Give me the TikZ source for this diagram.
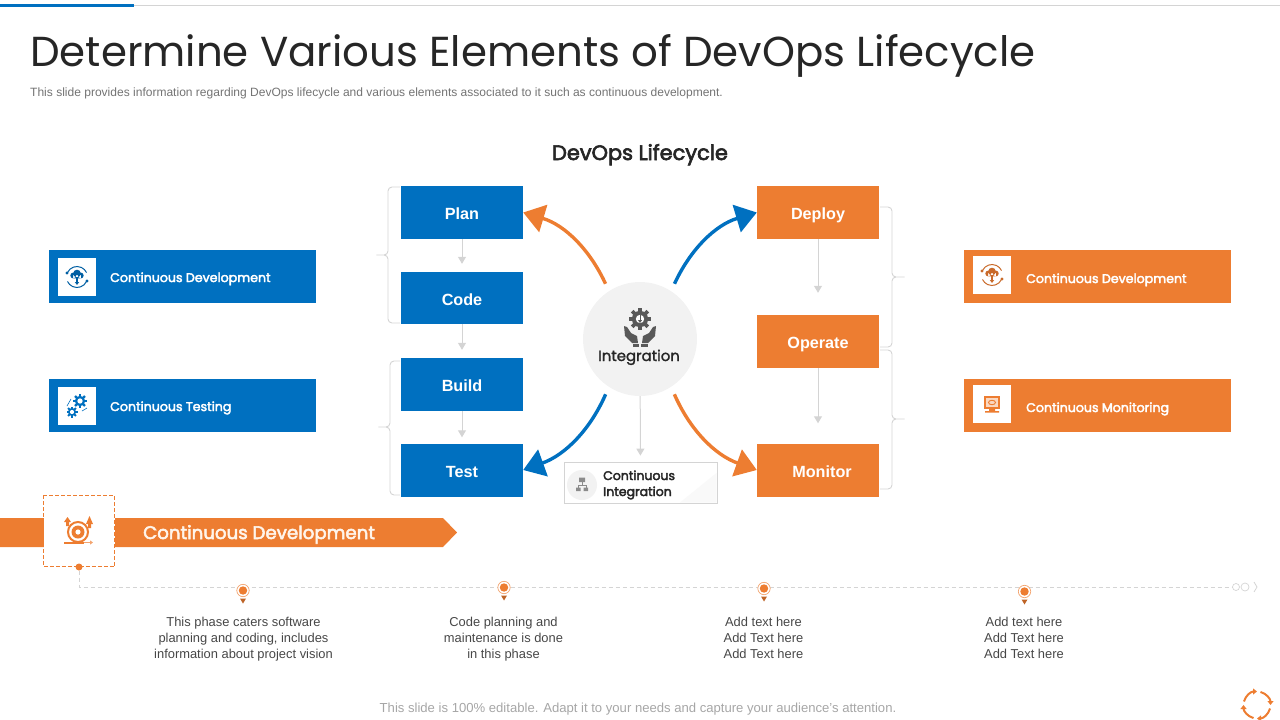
\documentclass[tikz,border=0pt]{standalone}
\usepackage{fontspec}
\setmainfont{Liberation Sans}
\newfontfamily\geo{Poppins}
\newfontfamily\geom[FakeBold=1.5]{Poppins}
\newfontfamily\geob[FakeBold=3]{Poppins}
\usetikzlibrary{arrows.meta}
\definecolor{dblue}{HTML}{0070C0}
\definecolor{dorange}{HTML}{ED7D31}
\definecolor{lgrey}{HTML}{D4D4D4}
\definecolor{cgrey}{HTML}{F2F2F2}
\definecolor{igrey}{HTML}{595959}
\tikzset{
  stagebox/.style={minimum width=122pt,minimum height=53pt,inner sep=0pt,text height=14pt,text depth=0pt,font=\fontsize{16.2}{16.2}\selectfont\bfseries,text=white},
  stageblue/.style={stagebox,fill=dblue},
  stageorange/.style={stagebox,fill=dorange},
  widebox/.style={minimum width=267pt,minimum height=53pt,inner sep=0pt},
  iconbox/.style={fill=white,minimum size=38pt,inner sep=0pt},
  widelabel/.style={anchor=base west,inner sep=0pt,text=white,font=\geob\fontsize{12.6}{12.6}\selectfont},
  greyarrow/.style={draw=lgrey,line width=1pt,-{Triangle[width=8pt,length=7pt]}},
  bigarrow/.style={line width=3.4pt,-{Triangle[width=28pt,length=21pt]}},
  bracket/.style={draw=lgrey,line width=0.9pt,rounded corners=4pt},
  bodytext/.style={align=center,inner sep=0pt,text=black!72,font=\fontsize{12.9}{16}\selectfont},
  dashline/.style={draw=lgrey,line width=0.8pt,dash pattern=on 4pt off 3pt},
  pics/gearico/.style={code={
    \fill[#1] (0,0) circle (0.74);
    \foreach \a in {0,45,...,315}{\fill[#1,rotate=\a] (-0.17,0.6) rectangle (0.17,1);}
    \fill[white] (0,0) circle (0.38);
  }},
  pics/cloudico/.style={code={
    \draw[#1,line width=1pt] (0,0) ++(25:10.5) arc (25:155:10.5);
    \draw[#1,line width=1pt] (0,0) ++(205:10.5) arc (205:335:10.5);
    \fill[#1] (-10,-4) circle (1.6) (10,4) circle (1.6);
    \fill[#1] (-3.8,-1.5) circle (2.9) (3.8,-1.5) circle (2.9) (0,-3.5) circle (3.8) (-4,-2) rectangle (4,1.4);
    \fill[#1] (-0.8,1) rectangle (0.8,6.5);
    \fill[#1] (-2.2,5) -- (2.2,5) -- (0,8) -- cycle;
  }},
  pics/pinico/.style={code={
    \draw[dorange!70,line width=0.7pt,fill=white] (0,0) circle (6.2);
    \fill[dorange] (0,0) circle (4.2);
    \fill[dorange!80!black] (-3,8) -- (3,8) -- (0,13) -- cycle;
  }},
}
\begin{document}
\begin{tikzpicture}[x=1pt,y=-1pt]
\useasboundingbox (0,0) rectangle (1280,720);
% top rule
\draw[draw=lgrey,line width=1pt] (0,5.5) -- (1280,5.5);
\fill[dblue] (0,3.5) rectangle (134,6.5);
% title
\node[anchor=base west,inner sep=0pt,text=black!85,font=\geo\fontsize{41.9}{41.9}\selectfont] (title) at (30,66) {Determine Various Elements of DevOps Lifecycle};
\node[anchor=base west,inner sep=0pt,text=black!55,font=\fontsize{12.03}{12}\selectfont] (sub) at (30,96.5) {This slide provides information regarding DevOps lifecycle and various elements associated to it such as continuous development.};
\node[anchor=base,inner sep=0pt,text=black!85,font=\geob\fontsize{20.9}{20.9}\selectfont] (head) at (640,160) {DevOps Lifecycle};
% brackets
\draw[bracket] (400,187) -- (388,187) -- (388,255) -- (374,255) -- (388,255) -- (388,323) -- (400,323);
\draw[bracket] (400,361) -- (390,361) -- (390,427) -- (376,427) -- (390,427) -- (390,495) -- (400,495);
\draw[bracket] (880,207) -- (892,207) -- (892,277) -- (907,277) -- (892,277) -- (892,347) -- (880,347);
\draw[bracket] (880,350) -- (892,350) -- (892,419) -- (907,419) -- (892,419) -- (892,489) -- (880,489);
% stage boxes
\node[stageblue] (plan) at (462,212.5) {Plan};
\node[stageblue,minimum height=52pt] (code) at (462,298) {Code};
\node[stageblue] (build) at (462,384.5) {Build};
\node[stageblue] (test) at (462,470) {Test};
\node[stageorange] (deploy) at (818,212.5) {Deploy};
\node[stageorange] (operate) at (818,341.5) {Operate};
\node[stageorange] (monitor) at (818,470) {\hspace*{8pt}Monitor};
% centre
\node[circle,fill=cgrey,minimum size=114pt,inner sep=0pt] (integ) at (640,339) {};
\pic[scale=11] at (640,319) {gearico=igrey};
\draw[igrey,line width=1pt,-{Triangle[width=4pt,length=3pt]}] (640,315) -- (640,323);
\foreach \s in {1,-1}{
  \fill[igrey,xshift=640pt,xscale=\s] (-16,326) -- (-13,327) -- (-9,333) -- (-3,336) -- (-2,343) -- (-8,343) -- (-15,336) -- cycle;
  \fill[igrey,xshift=640pt,xscale=\s] (-7.5,344) rectangle (-1,347);
}
\node[anchor=base,inner sep=0pt,text=black!85,font=\geom\fontsize{14.9}{14.9}\selectfont] (integlabel) at (639,361) {Integration};
% CI box
\node[draw=lgrey,fill=white,line width=0.8pt,minimum width=153pt,minimum height=41pt,inner sep=0pt] (ci) at (640.5,482.5) {};
\fill[cgrey!50] (716.5,473) -- (716.5,502.5) -- (680,502.5) -- cycle;
\node[circle,fill=cgrey,minimum size=30pt,inner sep=0pt] (cicircle) at (582,485) {};
\fill[igrey!70] (579,477.5) rectangle (585,482) (576,487.5) rectangle (580.5,491) (583.5,487.5) rectangle (588,491);
\draw[igrey!70,line width=0.6pt] (582,482) -- (582,485) (578,487.5) -- (578,485) -- (586,485) -- (586,487.5);
\node[anchor=base west,inner sep=0pt,align=left,text=black!85,font=\geob\fontsize{12.5}{16}\selectfont] (cilabel) at (603,480) {Continuous};
\node[anchor=base west,inner sep=0pt,align=left,text=black!85,font=\geob\fontsize{12.5}{16}\selectfont] (cilabelb) at (603,496) {Integration};
% grey arrows
\draw[greyarrow,shorten >=8pt] (plan) -- (code);
\draw[greyarrow,shorten >=8pt] (code) -- (build);
\draw[greyarrow,shorten >=6pt] (build) -- (test);
\draw[greyarrow,shorten >=22pt] (deploy) -- (operate);
\draw[greyarrow,shorten >=20pt] (operate) -- (monitor);
\draw[greyarrow,shorten >=6pt] (integ) -- (ci);
% curved arrows
\draw[bigarrow,draw=dorange,shorten <=8pt] (integ.123) .. controls (590,250) and (565,225) .. (plan.east);
\draw[bigarrow,draw=dblue,shorten <=8pt] (integ.57) .. controls (690,250) and (715,225) .. (deploy.west);
\draw[bigarrow,draw=dblue,shorten <=8pt] (integ.237) .. controls (590,430) and (565,455) .. (test.east);
\draw[bigarrow,draw=dorange,shorten <=8pt] (integ.303) .. controls (690,430) and (715,455) .. (monitor.west);
% side boxes
\node[widebox,fill=dblue] (ld) at (182.5,276.5) {};
\node[widebox,fill=dblue] (lt) at (182.5,405.5) {};
\node[widebox,fill=dorange] (rd) at (1097.5,276.5) {};
\node[widebox,fill=dorange] (rm) at (1097.5,405.5) {};
\node[iconbox] (ldi) at (77,277) {};
\node[iconbox] (lti) at (77,406) {};
\node[iconbox] (rdi) at (992,275) {};
\node[iconbox] (rmi) at (992,404) {};
\pic at (ldi) {cloudico={dblue!85!black}};
\pic at (rdi) {cloudico={dorange!85!black}};
\pic[scale=7] at (80,401) {gearico=dblue};
\pic[scale=5.5] at (72,412) {gearico=dblue};
\draw[dblue,line width=0.6pt] (67,406) -- (71,399) (82,411) -- (87,408);
\draw[dorange,line width=1.5pt,fill=dorange!30] (985,397) rectangle (999,408);
\draw[dorange,line width=0.9pt] (992,402.5) ellipse (3.5 and 2.2);
\fill[dorange] (989,408) rectangle (995,411) (985,411) rectangle (999,412.5);
\node[widelabel] (ldl) at (110,282) {Continuous Development};
\node[widelabel] (ltl) at (110,411) {Continuous Testing};
\node[widelabel] (rdl) at (1026,283) {Continuous Development};
\node[widelabel] (rml) at (1026,412) {Continuous Monitoring};
% banner
\fill[dorange] (0,518) -- (443,518) -- (457,532.5) -- (443,547) -- (0,547) -- cycle;
\node[fill=white,minimum size=71pt,inner sep=0pt] (bannerbox) at (79,531) {};
\draw[dorange,line width=1.1pt,dash pattern=on 4pt off 2pt] (bannerbox.north west) rectangle (bannerbox.south east);
\node[anchor=base west,inner sep=0pt,text=white!92!orange,font=\geob\fontsize{18.2}{18.2}\selectfont] (bannerlabel) at (143,539) {Continuous Development};
% banner icon
\draw[dorange,line width=2pt] (78,532) circle (10);
\fill[dorange] (78,532) circle (6.5);
\fill[white] (78,532) circle (2.6);
\fill[dorange] (64,541.5) rectangle (84,544);
\draw[dorange!70,line width=0.8pt,-{Triangle[width=4pt,length=3pt]}] (84,542.5) -- (93,542.5);
\fill[dorange] (66,522) rectangle (69,526) (88,524) rectangle (91,528);
\fill[dorange] (64,522) -- (71,522) -- (67.5,517) -- cycle;
\fill[dorange] (86,524) -- (93,524) -- (89.5,516) -- cycle;
% timeline
\node[circle,fill=dorange,minimum size=7pt,inner sep=0pt] (tdot) at (79,567) {};
\coordinate (tend) at (1232,587);
\draw[dashline] (tdot) |- (tend);
\node[circle,draw=lgrey,line width=0.7pt,minimum size=7pt,inner sep=0pt] (ta) at (1236,587) {};
\node[circle,draw=lgrey,line width=0.7pt,minimum size=8pt,inner sep=0pt] (tb) at (1245,587) {};
\draw[draw=lgrey,line width=0.8pt] (1254,582) -- (1257,587) -- (1254,592);
\pic at (243,590.5) {pinico};
\pic at (504,587.5) {pinico};
\pic at (764,588.5) {pinico};
\pic at (1024.5,591.5) {pinico};
\node[bodytext] (t1) at (243.5,639) {This phase caters software\\planning and coding, includes\\information about project vision};
\node[bodytext] (t2) at (503.5,639) {Code planning and\\maintenance is done\\in this phase};
\node[bodytext] (t3) at (763.5,637.5) {Add text here\\Add Text here\\Add Text here};
\node[bodytext] (t4) at (1024,637.5) {Add text here\\Add Text here\\Add Text here};
% footer
\node[anchor=base,inner sep=0pt,text=black!35,font=\fontsize{13.1}{12}\selectfont] (foot) at (638,712) {This slide is 100\% editable. Adapt it to your needs and capture your audience's attention.};
% cycle icon
\foreach \a in {15,105,195,285}{
  \draw[dorange,line width=2pt,-{Triangle[width=6pt,length=4pt]}] (1257,705) ++(\a:13.5) arc (\a:\a+75:13.5);
}
\end{tikzpicture}
\end{document}
